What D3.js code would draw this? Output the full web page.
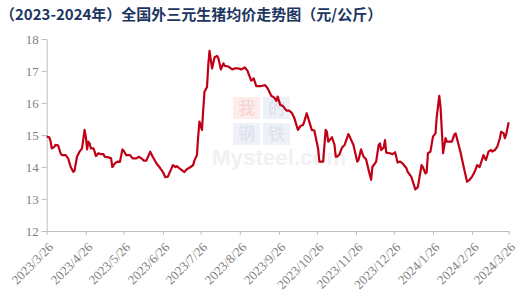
<!DOCTYPE html>
<html>
<head>
<meta charset="utf-8">
<script src="https://cdn.jsdelivr.net/npm/d3@7"></script>
<style>
  body { margin: 0; background: #fff; }
  svg { display: block; }
</style>
</head>
<body>
<svg id="chart"></svg>
<script>
// price series (元/公斤)
const dates = [
  "2023-03-26","2023-03-28","2023-03-29","2023-03-30","2023-04-01","2023-04-02","2023-04-04","2023-04-06","2023-04-07","2023-04-10",
  "2023-04-12","2023-04-14","2023-04-16","2023-04-17","2023-04-19","2023-04-21","2023-04-23","2023-04-25","2023-04-26","2023-04-27",
  "2023-04-28","2023-04-29","2023-04-30","2023-05-02","2023-05-03","2023-05-04","2023-05-06","2023-05-08","2023-05-10","2023-05-11",
  "2023-05-14","2023-05-16","2023-05-17","2023-05-19","2023-05-21","2023-05-23","2023-05-25","2023-05-26","2023-05-28","2023-05-31",
  "2023-06-02","2023-06-05","2023-06-07","2023-06-09","2023-06-11","2023-06-13","2023-06-16","2023-06-18","2023-06-21","2023-06-24",
  "2023-06-26","2023-06-28","2023-06-30","2023-07-04","2023-07-06","2023-07-07","2023-07-10","2023-07-13","2023-07-15","2023-07-18",
  "2023-07-20","2023-07-21","2023-07-23","2023-07-24","2023-07-25","2023-07-27","2023-07-28","2023-07-29","2023-07-31","2023-08-01",
  "2023-08-02","2023-08-04","2023-08-06","2023-08-08","2023-08-09","2023-08-11","2023-08-13","2023-08-14","2023-08-17","2023-08-20",
  "2023-08-22","2023-08-25","2023-08-27","2023-08-30","2023-09-01","2023-09-04","2023-09-06","2023-09-08","2023-09-12","2023-09-15",
  "2023-09-17","2023-09-20","2023-09-22","2023-09-24","2023-09-25","2023-09-27","2023-09-29","2023-10-02","2023-10-04","2023-10-06",
  "2023-10-08","2023-10-11","2023-10-13","2023-10-15","2023-10-16","2023-10-18","2023-10-20","2023-10-22","2023-10-24","2023-10-27",
  "2023-10-28","2023-10-31","2023-11-02","2023-11-03","2023-11-04","2023-11-07","2023-11-09","2023-11-10","2023-11-11","2023-11-13",
  "2023-11-15","2023-11-17","2023-11-20","2023-11-21","2023-11-24","2023-11-27","2023-11-28","2023-11-30","2023-12-02","2023-12-04",
  "2023-12-06","2023-12-08","2023-12-09","2023-12-12","2023-12-14","2023-12-15","2023-12-16","2023-12-18","2023-12-19","2023-12-20",
  "2023-12-23","2023-12-25","2023-12-27","2023-12-29","2023-12-31","2024-01-02","2024-01-05","2024-01-06","2024-01-09","2024-01-12",
  "2024-01-14","2024-01-15","2024-01-17","2024-01-18","2024-01-20","2024-01-21","2024-01-22","2024-01-24","2024-01-26","2024-01-28",
  "2024-01-29","2024-01-31","2024-02-01","2024-02-03","2024-02-05","2024-02-06","2024-02-10","2024-02-12","2024-02-13","2024-02-15",
  "2024-02-17","2024-02-19","2024-02-22","2024-02-24","2024-02-26","2024-02-28","2024-03-01","2024-03-03","2024-03-06","2024-03-08",
  "2024-03-10","2024-03-12","2024-03-13","2024-03-15","2024-03-17","2024-03-19","2024-03-20","2024-03-22","2024-03-23","2024-03-24",
  "2024-03-26"
];
const prices = [
  14.95,14.93,14.82,14.58,14.63,14.69,14.68,14.43,14.37,14.37,
  14.27,14.00,13.85,13.88,14.32,14.48,14.58,15.16,14.95,14.55,
  14.79,14.74,14.58,14.58,14.48,14.34,14.43,14.40,14.40,14.32,
  14.30,14.27,14.00,14.11,14.17,14.16,14.55,14.51,14.37,14.37,
  14.27,14.27,14.32,14.27,14.20,14.20,14.48,14.32,14.11,13.96,
  13.85,13.68,13.70,14.06,14.00,14.03,13.93,13.84,13.93,14.00,
  14.06,14.20,14.37,14.95,15.42,15.16,15.78,16.35,16.50,17.19,
  17.63,17.08,17.43,17.47,17.40,17.05,17.24,17.16,17.14,17.05,
  17.08,17.08,17.05,17.11,17.01,16.70,16.77,16.53,16.53,16.56,
  16.46,16.22,16.18,16.07,16.20,15.94,15.91,15.76,15.76,15.70,
  15.55,15.16,15.28,15.31,15.42,15.68,15.42,15.16,15.14,14.58,
  14.17,14.17,15.16,15.10,14.79,14.93,14.69,14.32,14.32,14.40,
  14.61,14.69,15.03,14.95,14.69,14.17,14.22,14.55,14.32,14.24,
  13.91,13.60,14.00,14.17,14.69,14.74,14.53,14.61,14.84,14.45,
  14.43,14.40,14.46,14.14,14.17,14.11,13.96,13.85,13.68,13.30,
  13.37,13.60,14.06,14.00,13.80,13.83,14.43,14.48,14.95,15.05,
  15.57,16.22,15.88,14.43,14.90,14.79,14.79,15.02,15.05,14.74,
  14.43,14.06,13.54,13.60,13.70,13.85,14.06,14.00,14.37,14.22,
  14.48,14.53,14.48,14.53,14.64,14.90,15.10,15.05,14.90,15.02,
  15.40
];
const tickLabels = [
  "2023/3/26","2023/4/26","2023/5/26","2023/6/26","2023/7/26","2023/8/26","2023/9/26",
  "2023/10/26","2023/11/26","2023/12/26","2024/1/26","2024/2/26","2024/3/26"
];
const yTicks = [12, 13, 14, 15, 16, 17, 18];
const title = "（2023-2024年）全国外三元生猪均价走势图（元/公斤）";

const W = 518, H = 295;
const margin = { left: 46.7, right: 9.3, top: 39, bottom: 64 };

const svg = d3.select("#chart").attr("width", W).attr("height", H);

const parse = d3.timeParse("%Y-%m-%d");
const tickParse = d3.timeParse("%Y/%m/%d");
const data = dates.map((d, i) => ({ date: parse(d), value: prices[i] }));
const tickDates = tickLabels.map(tickParse);

const x = d3.scaleTime()
  .domain([tickDates[0], tickDates[tickDates.length - 1]])
  .range([margin.left, W - margin.right]);
const y = d3.scaleLinear()
  .domain([12, 18])
  .range([H - margin.bottom, margin.top]);

// title
svg.append("text")
  .attr("x", 0)
  .attr("y", 20)
  .attr("font-family", "'Noto Sans CJK SC', sans-serif")
  .attr("font-weight", "bold")
  .attr("font-size", 15)
  .attr("fill", "#1c3560")
  .text(title);

// watermark (kept faint, laid out so the texts don't collide)
const wm = svg.append("g").attr("class", "watermark");
const boxes = [
  { t: "我", bx: 233, by: 97, fill: "#fcecec", ink: "#f6d2d2" },
  { t: "的", bx: 263, by: 97, fill: "#eef1f7", ink: "#dbe1ec" },
  { t: "钢", bx: 233, by: 123, fill: "#eef1f7", ink: "#dbe1ec" },
  { t: "铁", bx: 263, by: 123, fill: "#eef1f7", ink: "#dbe1ec" }
];
boxes.forEach((b) => {
  wm.append("rect")
    .attr("x", b.bx).attr("y", b.by)
    .attr("width", 27).attr("height", 22)
    .attr("fill", b.fill);
  wm.append("text")
    .attr("x", b.bx + 13.5).attr("y", b.by + 17)
    .attr("text-anchor", "middle")
    .attr("font-family", "'Noto Sans CJK SC', serif")
    .attr("font-size", 17)
    .attr("fill", b.ink)
    .text(b.t);
});
wm.append("text")
  .attr("x", 212).attr("y", 165)
  .attr("font-family", "Arial, 'Liberation Sans', sans-serif")
  .attr("font-weight", "bold")
  .attr("font-size", 22)
  .attr("textLength", 134)
  .attr("lengthAdjust", "spacingAndGlyphs")
  .attr("fill", "#f1f1f1")
  .text("Mysteel.com");

// y axis
const axisColor = "#bfbfbf";
const labelColor = "#7f7f7f";
const yAxis = svg.append("g")
  .attr("transform", `translate(${margin.left},0)`)
  .call(d3.axisLeft(y).tickValues(yTicks).tickSize(5).tickPadding(3).tickFormat(d3.format("d")));
yAxis.select(".domain").attr("stroke", axisColor);
yAxis.selectAll(".tick line").attr("stroke", axisColor);
yAxis.selectAll(".tick text")
  .attr("fill", labelColor)
  .attr("font-family", "'Liberation Serif', 'Times New Roman', serif")
  .attr("font-size", 13);

// x axis
const xAxis = svg.append("g")
  .attr("transform", `translate(0,${H - margin.bottom})`)
  .call(d3.axisBottom(x).tickValues(tickDates).tickSize(4).tickSizeOuter(0)
    .tickFormat((d, i) => tickLabels[i]));
xAxis.select(".domain").attr("stroke", axisColor);
xAxis.selectAll(".tick line").attr("stroke", axisColor);
xAxis.selectAll(".tick text")
  .attr("fill", labelColor)
  .attr("font-family", "'Liberation Serif', 'Times New Roman', serif")
  .attr("font-size", 13)
  .attr("text-anchor", "end")
  .attr("dy", null)
  .attr("y", 0)
  .attr("transform", "translate(7,17) rotate(-45)");

// price line
const line = d3.line()
  .x((d) => x(d.date))
  .y((d) => y(d.value));

svg.append("path")
  .datum(data)
  .attr("fill", "none")
  .attr("stroke", "#c00016")
  .attr("stroke-width", 2.2)
  .attr("stroke-linejoin", "round")
  .attr("d", line);
</script>
</body>
</html>
